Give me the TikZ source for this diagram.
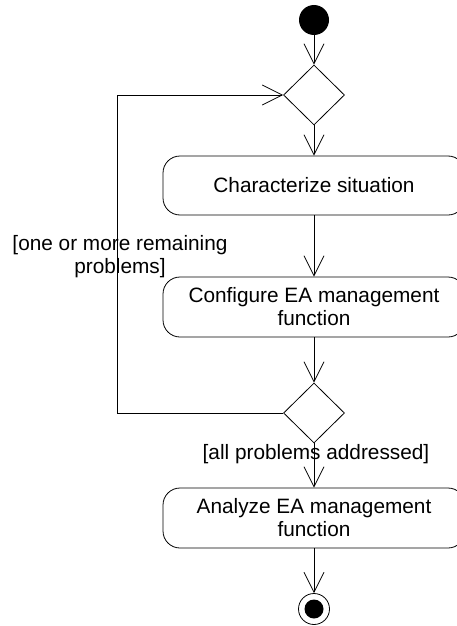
\documentclass[tikz,border=0pt]{standalone}
\usepackage{fontspec}
\setmainfont{Liberation Sans}
\usetikzlibrary{shapes.geometric,arrows.meta}
\begin{document}
\begin{tikzpicture}[x=1pt,y=-1pt,
  every node/.style={font=\fontsize{20.8}{23}\selectfont},
  flow/.style={draw, line width=0.8pt, -{Straight Barb[length=20pt,width=20pt,line width=0.8pt]}},
  action/.style={draw, line width=0.8pt, rectangle, rounded corners=17pt, minimum width=302pt, inner sep=0pt, align=center},
  decision/.style={draw, line width=0.8pt, diamond, minimum width=61pt, minimum height=60pt, inner sep=0pt},
  guard/.style={align=center, inner sep=0pt}]
\useasboundingbox (0,0) rectangle (456,626);
\node[circle, fill=black, minimum size=30pt, inner sep=0pt] (start) at (314,20) {};
\node[decision] (d1) at (314,95) {};
\node[action, minimum height=59pt] (a1) at (314,185.5) {Characterize situation};
\node[action, minimum height=60pt] (a2) at (314,307) {Configure EA management\\function};
\node[decision] (d2) at (314,413) {};
\node[action, minimum height=60pt] (a3) at (314,518) {Analyze EA management\\function};
\node[circle, draw, line width=0.8pt, minimum size=31pt, inner sep=0pt] (end) at (314,609) {};
\node[circle, fill=black, minimum size=19pt, inner sep=0pt] (endin) at (end.center) {};
\coordinate (lb) at (117,413);
\coordinate (lt) at (117,95);
\draw[flow] (start) -- (d1.north);
\draw[flow] (d1.south) -- (a1.north);
\draw[flow] (a1.south) -- (a2.north);
\draw[flow] (a2.south) -- (d2.north);
\draw[flow] (d2.south) -- (a3.north);
\draw[flow] (a3.south) -- (end.north);
\draw[flow] (d2.west) -- (lb) -- (lt) -- (d1.west);
\node[guard] (g1) at (120,257) {[one or more remaining\\problems]};
\node[guard] (g2) at (316,454) {[all problems addressed]};
\end{tikzpicture}
\end{document}
